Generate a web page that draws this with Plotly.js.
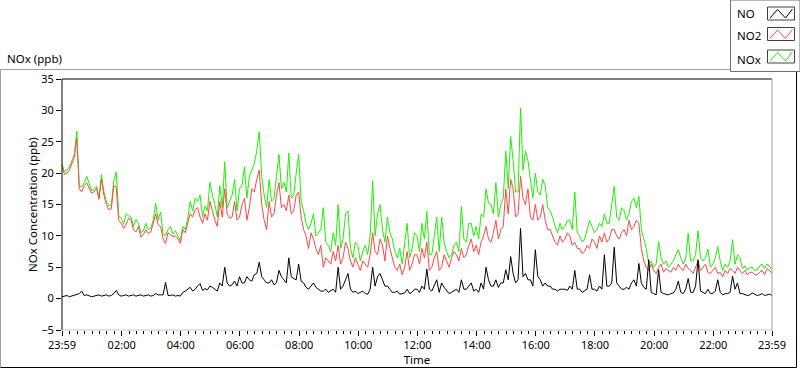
<!DOCTYPE html>
<html>
<head>
<meta charset="utf-8">
<script src="https://cdn.plot.ly/plotly-3.0.1.min.js"></script>
<style>html,body{margin:0;padding:0;background:#fff;}#chart{width:800px;height:369px;}</style>
</head>
<body>
<div id="chart"></div>
<script>
// Readings every 5 minutes, counted in minutes from 23:59 of the previous day
const minutes = [];
for (let m = 0; m <= 1440; m += 5) minutes.push(m);

const seriesNames = ["NO", "NO2", "NOx"];

const noValues = [
  0.3,0.4, 0.5,0.3, 0.4,0.5, 0.6,0.8, 1.2,0.5, 0.6,0.5, 0.3,0.4, 0.5,0.6, 0.4,0.5, 0.6,0.4, 0.5,0.8, 1.3,0.6,
  0.4,0.5, 0.6,0.4, 0.5,0.6, 0.4,0.5, 0.6,0.4, 0.5,0.6, 0.4,0.5, 0.8,0.6, 0.6,0.6, 2.6,0.5, 0.5,0.6, 0.4,0.5,
  0.4,1.0, 1.2,1.5, 1.8,1.2, 1.5,2.0, 2.4,1.3, 1.6,1.4, 2.0,1.8, 1.5,1.2, 2.5,2.0, 5.0,2.5, 2.0,2.2, 2.8,2.0,
  3.5,2.5, 2.5,3.5, 3.0,2.8, 3.8,4.0, 5.8,3.5, 3.0,2.5, 2.5,3.0, 2.2,2.5, 4.5,3.5, 3.0,2.5, 6.5,3.5, 3.2,3.0,
  5.5,2.8, 2.5,1.8, 1.5,2.0, 2.5,1.8, 1.5,1.2, 1.2,1.5, 1.0,1.2, 1.5,1.0, 5.0,1.5, 2.0,3.0, 4.0,1.5, 1.0,1.2,
  0.8,1.0, 1.2,0.8, 0.7,1.5, 5.0,2.0, 3.5,4.0, 3.0,2.0, 2.0,1.5, 1.0,1.0, 1.2,0.7, 0.8,0.9, 1.5,0.8, 1.0,1.5,
  1.5,1.0, 2.0,1.5, 4.7,1.5, 1.2,2.0, 3.0,1.0, 2.5,1.8, 1.2,0.8, 1.0,1.2, 1.5,1.0, 3.0,1.5, 1.5,2.0, 2.5,1.2,
  1.5,1.0, 2.5,1.5, 5.0,3.0, 2.0,2.0, 3.0,1.8, 2.5,2.5, 4.6,3.0, 6.7,4.0, 2.5,3.0, 11.2,3.5, 4.0,3.0, 3.0,2.0,
  7.8,3.5, 3.0,2.0, 2.5,2.0, 2.0,1.5, 1.5,1.2, 1.5,1.5, 1.5,1.3, 2.0,1.5, 4.5,1.5, 1.5,1.0, 1.2,1.5, 3.8,1.5,
  1.5,1.2, 2.0,1.5, 7.0,2.0, 2.0,2.5, 8.2,2.5, 2.0,1.5, 1.5,1.8, 1.5,2.5, 3.0,2.0, 5.6,2.5, 1.8,1.5, 6.2,1.0,
  0.8,0.6, 4.6,1.0, 0.8,0.7, 0.6,0.8, 0.9,1.5, 2.8,1.0, 0.8,1.5, 3.2,1.0, 1.0,2.0, 6.2,1.2, 1.0,0.8, 1.5,0.8,
  0.8,1.2, 3.0,1.0, 0.6,0.8, 0.8,1.0, 3.6,1.5, 2.5,0.8, 0.8,0.7, 0.5,0.6, 0.9,0.7, 0.5,0.6, 0.8,0.5, 0.6,0.7,
  0.5
];

const no2Values = [
  21.0,19.8, 20.0,20.5, 21.5,22.5, 25.5,17.5, 17.0,18.0, 18.5,17.5, 16.8,17.0, 17.6,15.8, 19.0,16.5, 15.0,14.2, 14.3,18.0, 17.8,12.5,
  12.0,11.2, 11.8,12.8, 12.6,11.0, 10.6,11.5, 9.8,10.2, 11.0,10.4, 10.6,12.0, 13.5,11.8, 11.5,9.5, 8.8,10.5, 10.2,9.9, 10.0,9.5,
  8.8,11.0, 10.5,12.0, 13.5,13.0, 14.2,14.5, 13.0,12.0, 13.5,12.5, 15.5,14.0, 12.5,11.5, 15.5,13.0, 17.5,13.5, 12.8,13.0, 15.5,12.5,
  13.0,15.0, 16.0,12.5, 14.5,17.5, 17.0,19.0, 20.5,15.0, 12.5,11.0, 15.5,13.0, 13.5,16.5, 18.5,14.5, 15.0,14.0, 16.5,13.5, 14.0,16.5,
  17.0,13.0, 11.0,10.0, 8.0,10.5, 9.5,8.0, 7.0,8.5, 5.0,6.5, 6.0,5.5, 7.5,6.0, 8.5,5.5, 6.5,9.0, 8.0,6.0, 5.0,6.5,
  5.5,4.5, 6.0,5.5, 5.0,7.0, 10.5,7.5, 7.0,9.5, 8.5,6.0, 10.0,8.0, 6.5,5.0, 4.5,5.5, 3.8,5.0, 7.5,4.5, 5.5,7.0,
  7.0,5.5, 8.0,6.5, 9.0,4.5, 5.0,6.5, 7.5,4.5, 5.0,7.0, 6.0,5.0, 6.5,7.5, 7.0,6.0, 8.0,6.5, 7.0,8.5, 9.5,7.5,
  8.5,7.0, 9.0,10.0, 11.5,9.5, 9.0,10.5, 12.5,9.5, 11.0,11.5, 17.5,13.5, 19.0,17.5, 13.0,13.5, 19.5,16.0, 15.0,17.5, 13.0,12.5,
  15.0,12.5, 13.0,15.0, 12.5,11.0, 11.0,10.0, 9.0,8.5, 10.0,9.0, 9.5,10.5, 10.0,8.5, 9.0,8.0, 8.0,7.2, 7.5,8.5, 8.0,9.5,
  9.0,8.0, 10.0,9.0, 10.5,9.0, 9.5,11.0, 11.0,10.0, 9.5,10.5, 11.0,10.0, 12.5,11.0, 11.5,12.5, 12.0,8.0, 6.0,5.0, 4.5,5.5,
  4.5,4.0, 5.0,5.5, 4.2,4.8, 4.5,4.2, 5.0,4.5, 5.5,4.8, 4.5,5.5, 4.8,4.5, 4.0,5.0, 6.0,4.5, 5.0,5.5, 4.2,4.0,
  4.5,5.0, 4.0,4.2, 3.5,4.5, 4.0,4.8, 4.5,4.0, 5.0,4.5, 4.0,4.5, 3.8,4.2, 4.2,3.8, 3.8,4.2, 4.5,3.8, 4.8,4.5,
  4.0
];

const noxValues = [
  21.5,20.2, 20.5,21.0, 22.0,23.0, 26.7,18.0, 17.8,18.5, 19.5,18.2, 17.2,17.5, 17.9,16.2, 19.8,17.0, 15.4,14.8, 14.9,18.8, 20.2,13.2,
  12.8,11.8, 13.5,13.2, 13.0,11.5, 12.6,12.0, 10.5,10.8, 12.0,11.0, 11.2,12.5, 15.2,12.5, 13.8,10.2, 10.0,11.0, 11.5,10.3, 10.8,10.0,
  9.2,11.5, 11.0,12.8, 15.5,14.0, 16.0,15.5, 16.5,13.0, 14.8,14.0, 18.5,16.5, 15.0,13.0, 18.0,14.5, 21.8,14.5, 15.5,16.5, 19.0,14.0,
  17.5,18.0, 21.0,16.0, 19.5,20.5, 21.5,23.5, 26.6,19.5, 16.5,14.5, 19.0,15.5, 16.0,19.5, 23.0,17.5, 18.5,17.0, 23.2,16.0, 16.5,20.0,
  23.0,15.5, 14.0,12.0, 11.0,12.0, 13.5,10.0, 10.5,11.0, 14.5,9.0, 8.5,7.5, 10.5,8.5, 15.0,8.0, 9.5,13.5, 14.0,8.0, 6.5,9.0,
  8.5,6.0, 7.5,8.5, 7.0,10.0, 18.8,10.0, 13.5,15.0, 11.0,9.0, 13.0,10.5, 9.5,7.5, 6.5,8.0, 5.5,8.5, 12.0,6.5, 8.0,10.5,
  10.0,7.5, 12.0,9.5, 13.9,7.0, 7.0,10.0, 13.0,7.5, 13.0,9.0, 7.5,6.5, 7.0,8.5, 9.0,7.5, 14.7,9.5, 9.0,12.0, 12.0,10.0,
  11.5,9.5, 13.5,13.0, 17.5,15.2, 15.0,13.5, 18.5,13.0, 15.0,16.0, 23.5,17.5, 25.8,22.0, 17.0,17.0, 30.4,20.5, 23.5,22.0, 19.0,16.0,
  20.0,17.0, 16.5,19.0, 18.0,14.5, 14.0,13.0, 11.5,10.5, 12.0,11.0, 11.5,12.5, 12.5,11.0, 17.0,10.5, 10.0,9.0, 9.5,11.0, 12.5,11.5,
  10.5,11.0, 12.0,11.5, 13.5,12.0, 12.0,15.0, 17.9,13.0, 12.5,14.5, 14.0,12.5, 13.5,15.5, 16.0,14.5, 16.3,11.0, 9.5,8.0, 5.5,6.0,
  5.0,5.5, 9.1,6.5, 5.5,6.0, 5.0,5.5, 6.0,7.0, 7.8,6.5, 5.5,6.5, 10.4,6.0, 6.0,7.0, 10.8,6.5, 6.0,6.5, 7.9,5.0,
  5.5,6.5, 8.3,6.0, 4.5,5.5, 5.0,6.0, 9.4,5.5, 7.0,6.5, 4.8,5.2, 4.5,5.0, 5.0,4.5, 4.6,5.2, 5.5,4.8, 5.5,5.2,
  4.5
];

const xTickVals = [0,121,241,361,481,601,721,841,961,1081,1201,1321,1440];
const xTickText = ["23:59","02:00","04:00","06:00","08:00","10:00","12:00","14:00","16:00","18:00","20:00","22:00","23:59"];
const yTickVals = [-5,0,5,10,15,20,25,30,35];

const colors = {NO: "#000000", NO2: "#ff4646", NOx: "#1ef000"};
const FONT = "Noto Sans, Open Sans, sans-serif";

const traces = [
  {x: minutes, y: noxValues, name: seriesNames[2], type: "scatter", mode: "lines", line: {color: colors.NOx, width: 1}, showlegend: false},
  {x: minutes, y: no2Values, name: seriesNames[1], type: "scatter", mode: "lines", line: {color: colors.NO2, width: 1}, showlegend: false},
  {x: minutes, y: noValues, name: seriesNames[0], type: "scatter", mode: "lines", line: {color: colors.NO, width: 1}, showlegend: false}
];

// plot area: x 62..772, y 79..330
const L = 62, R = 772, T = 79, B = 330, W = 800, H = 369;
const px = v => (v - L) / (R - L);
const py = v => (B - v) / (B - T);

const shapes = [
  // outer frame
  {type: "line", xref: "paper", yref: "paper", x0: px(0.5), x1: px(730), y0: py(69.5), y1: py(69.5), line: {color: "#a0a0a0", width: 1}},
  {type: "line", xref: "paper", yref: "paper", x0: px(0.5), x1: px(0.5), y0: py(69.5), y1: py(367.5), line: {color: "#a0a0a0", width: 1}},
  {type: "line", xref: "paper", yref: "paper", x0: px(0.5), x1: px(796.5), y0: py(367.5), y1: py(367.5), line: {color: "#000", width: 1}},
  {type: "line", xref: "paper", yref: "paper", x0: px(796.5), x1: px(796.5), y0: py(72), y1: py(367.5), line: {color: "#000", width: 1}},
  // plot frame
  {type: "line", xref: "paper", yref: "paper", x0: 0, x1: 1, y0: 1, y1: 1, line: {color: "#000", width: 1}},
  {type: "line", xref: "paper", yref: "paper", x0: 0, x1: 0, y0: 0, y1: 1, line: {color: "#000", width: 1}},
  {type: "line", xref: "paper", yref: "paper", x0: 1, x1: 1, y0: 0, y1: 1, line: {color: "#a0a0a0", width: 1}},
  {type: "line", xref: "paper", yref: "paper", x0: 0, x1: 1, y0: 0, y1: 0, line: {color: "#c8c8c8", width: 1}},
  // legend box
  {type: "rect", xref: "paper", yref: "paper", x0: px(730.5), x1: px(800), y0: py(0), y1: py(71.5), fillcolor: "#ffffff", line: {color: "#707070", width: 1}, layer: "above"}
];

const annotations = [
  {xref: "paper", yref: "paper", x: px(5), y: py(58), xanchor: "left", yanchor: "middle",
   text: "NOx (ppb)", showarrow: false, font: {family: FONT, size: 11.5, color: "#000"}},
  {xref: "paper", yref: "paper", x: px(32), y: py(205), xanchor: "center", yanchor: "middle", textangle: -90,
   text: "NOx Concentration (ppb)", showarrow: false, font: {family: FONT, size: 11.5, color: "#000"}}
];

// legend entries: name on the left, boxed zig-zag swatch on the right
const legendRows = [13.5, 36, 59];
const legendSwatchTop = [7, 27.5, 50];
seriesNames.forEach((nm, i) => {
  annotations.push({xref: "paper", yref: "paper", x: px(735), y: py(legendRows[i]), xanchor: "left", yanchor: "middle",
    text: nm, showarrow: false, font: {family: FONT, size: 11.5, color: "#000"}});
  const t = legendSwatchTop[i], b = t + 13;
  shapes.push({type: "rect", xref: "paper", yref: "paper", x0: px(767.5), x1: px(794.5), y0: py(t), y1: py(b),
    fillcolor: "#ffffff", line: {color: "#404040", width: 1}, layer: "above"});
  const zz = [[770, b - 2], [777.5, t + 2.5], [785.5, b - 2], [792.5, t + 2]];
  const path = zz.map((p, k) => (k ? "L" : "M") + px(p[0]).toFixed(5) + "," + py(p[1]).toFixed(5)).join(" ");
  shapes.push({type: "path", xref: "paper", yref: "paper", path: path, line: {color: colors[nm], width: 1}, layer: "above"});
});

const layout = {
  width: W, height: H,
  margin: {l: L, r: W - R, t: T, b: H - B, pad: 0},
  paper_bgcolor: "#ffffff", plot_bgcolor: "#ffffff",
  font: {family: FONT, size: 11, color: "#000"},
  showlegend: false,
  xaxis: {
    range: [0, 1440], tickmode: "array", tickvals: xTickVals, ticktext: xTickText,
    ticks: "outside", ticklen: 5, tickcolor: "#000", tickwidth: 1,
    minor: {tickmode: "linear", tick0: 1, dtick: 15, ticks: "outside", ticklen: 3, tickcolor: "#000", showgrid: false},
    showgrid: false, zeroline: false, showline: false,
    tickfont: {family: FONT, size: 11, color: "#000"},
    title: {text: "Time", font: {family: FONT, size: 11.5, color: "#000"}, standoff: 1},
    fixedrange: true
  },
  yaxis: {
    range: [-5, 35], tickmode: "array", tickvals: yTickVals,
    ticks: "outside", ticklen: 5, tickcolor: "#000", tickwidth: 1,
    showgrid: false, zeroline: false, showline: false,
    tickfont: {family: FONT, size: 11, color: "#000"},
    fixedrange: true
  },
  annotations: annotations,
  shapes: shapes
};

Plotly.newPlot("chart", traces, layout, {displayModeBar: false, staticPlot: true});
</script>
</body>
</html>
